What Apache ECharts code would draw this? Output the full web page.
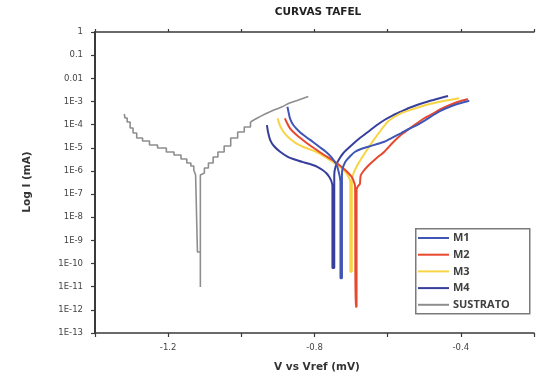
<!DOCTYPE html>
<html>
<head>
<meta charset="utf-8">
<script src="https://cdn.jsdelivr.net/npm/echarts@6/dist/echarts.min.js"></script>
<style>
html,body{margin:0;padding:0;background:#fff;}
#c{width:537px;height:377px;}
</style>
</head>
<body>
<div id="c"></div>
<script>
// ---- data (V vs Vref, current in mA) ----
const m1V = [-0.874,-0.871,-0.867,-0.858,-0.841,-0.823,-0.805,-0.788,-0.769,-0.754,-0.742,-0.737,-0.734,-0.731,-0.729,-0.729,-0.725,-0.725,-0.724,-0.716,-0.702,-0.689,-0.673,-0.653,-0.633,-0.609,-0.587,-0.564,-0.542,-0.520,-0.499,-0.475,-0.454,-0.430,-0.405,-0.377];
const m1I = [5.93e-4,3.50e-4,1.87e-4,9.6e-5,4.93e-5,2.91e-5,1.82e-5,1.13e-5,6.75e-6,3.98e-6,2.13e-6,1.40e-6,9.23e-7,5.73e-7,3.41e-7,2.29e-11,2.29e-11,4.93e-7,1.09e-6,2.42e-6,4.40e-6,6.75e-6,8.83e-6,1.11e-5,1.38e-5,1.82e-5,2.77e-5,4.21e-5,6.46e-5,9.6e-5,1.50e-4,2.60e-4,4.06e-4,5.93e-4,8.15e-4,1.08e-3];

const m2V = [-0.881,-0.875,-0.867,-0.852,-0.832,-0.812,-0.787,-0.769,-0.751,-0.734,-0.716,-0.705,-0.698,-0.693,-0.689,-0.688,-0.685,-0.685,-0.681,-0.676,-0.674,-0.668,-0.654,-0.630,-0.609,-0.587,-0.564,-0.542,-0.520,-0.499,-0.475,-0.454,-0.430,-0.405,-0.381];
const m2I = [1.87e-4,1.17e-4,6.92e-5,3.93e-5,2.16e-5,1.25e-5,6.75e-6,4.40e-6,2.96e-6,1.89e-6,1.09e-6,7.35e-7,5.45e-7,3.66e-7,2.23e-7,1.36e-12,1.36e-12,1.50e-7,2.23e-7,2.72e-7,6.02e-7,8.96e-7,1.63e-6,3.61e-6,6.75e-6,1.60e-5,3.56e-5,6.46e-5,1.14e-4,1.93e-4,3.08e-4,4.72e-4,7.03e-4,9.95e-4,1.28e-3];

const m3V = [-0.901,-0.895,-0.885,-0.871,-0.850,-0.823,-0.796,-0.775,-0.751,-0.732,-0.716,-0.708,-0.702,-0.702,-0.698,-0.698,-0.694,-0.684,-0.671,-0.654,-0.635,-0.618,-0.600,-0.582,-0.564,-0.539,-0.511,-0.486,-0.457,-0.432,-0.405];
const m3I = [1.87e-4,9.6e-5,4.93e-5,2.77e-5,1.56e-5,9.75e-6,6.75e-6,4.40e-6,2.50e-6,1.55e-6,9.23e-7,6.02e-7,3.31e-7,4.43e-11,4.43e-11,4.04e-7,7.35e-7,1.63e-6,3.61e-6,9.28e-6,2.56e-5,5.85e-5,1.33e-4,2.13e-4,3.08e-4,4.27e-4,5.93e-4,7.76e-4,9.75e-4,1.16e-3,1.37e-3];

const m4V = [-0.930,-0.927,-0.921,-0.911,-0.894,-0.874,-0.850,-0.828,-0.805,-0.791,-0.778,-0.768,-0.760,-0.754,-0.751,-0.751,-0.746,-0.746,-0.742,-0.734,-0.721,-0.698,-0.676,-0.653,-0.633,-0.609,-0.587,-0.564,-0.542,-0.520,-0.499,-0.475,-0.456,-0.435];
const m4I = [9.6e-5,4.79e-5,2.16e-5,1.19e-5,6.75e-6,4.19e-6,2.96e-6,2.31e-6,1.80e-6,1.47e-6,1.09e-6,8.11e-7,5.61e-7,3.66e-7,2.23e-7,6.4e-11,6.4e-11,6.65e-7,1.63e-6,2.96e-6,5.93e-6,1.31e-5,2.64e-5,4.93e-5,8.71e-5,1.58e-4,2.47e-4,3.61e-4,5.21e-4,7.03e-4,9.02e-4,1.16e-3,1.41e-3,1.72e-3];

const susV = [-1.320,-1.318,-1.312,-1.304,-1.296,-1.286,-1.270,-1.251,-1.229,-1.205,-1.184,-1.165,-1.149,-1.138,-1.130,-1.125,-1.120,-1.120,-1.112,-1.112,-1.112,-1.109,-1.101,-1.090,-1.077,-1.064,-1.047,-1.029,-1.010,-0.992,-0.975,-0.956,-0.935,-0.911,-0.890,-0.868,-0.844,-0.817];
const susI = [2.87e-4,1.93e-4,1.29e-4,7.13e-5,4.34e-5,2.64e-5,1.96e-5,1.31e-5,9.8e-6,6.55e-6,4.86e-6,3.27e-6,2.19e-6,1.63e-6,1.09e-6,6.65e-7,6.65e-7,3.14e-10,1.91e-10,9.7e-12,6.65e-7,8.11e-7,1.33e-6,2.19e-6,3.98e-6,6.55e-6,1.19e-5,2.64e-5,4.79e-5,7.87e-5,1.29e-4,1.93e-4,2.87e-4,4.27e-4,5.75e-4,8.57e-4,1.16e-3,1.64e-3];
// the substrate trace is a staircase (coarse sampling) up to this potential, smooth above it
const susStepEndV = -0.975;

const seriesNames = ['M1','M2','M3','M4','SUSTRATO'];
const yTickLabels = ['1','0.1','0.01','1E-3','1E-4','1E-5','1E-6','1E-7','1E-8','1E-9','1E-10','1E-11','1E-12','1E-13'];
const xTickLabels = ['-1.2','-0.8','-0.4'];
const titleText = 'CURVAS TAFEL';
const xAxisTitle = 'V vs Vref (mV)';
const yAxisTitle = 'Log I (mA)';

const colors = {M1:'#3f56b6', M2:'#e8482f', M3:'#f8d444', M4:'#373f9c', SUSTRATO:'#8e8e8e'};
const zip = (a,b) => a.map((v,i) => [v, b[i]]);
const susData = zip(susV, susI);
const cut = susV.indexOf(susStepEndV);

const chart = echarts.init(document.getElementById('c'), null, {renderer:'canvas'});
const axisCol = '#3a3a3a';
const lineSeries = (name, data, extra) => Object.assign({
  name, type:'line', data, showSymbol:false, symbol:'none',
  lineStyle:{width:2, color:colors[name]}, itemStyle:{color:colors[name]},
  smooth:0.2, animation:false, z:3
}, extra||{});

chart.setOption({
  animation:false,
  backgroundColor:'#fff',
  grid:{left:95, top:32, width:447, height:301, containLabel:false},
  xAxis:[{
    type:'value', min:-1.4, max:-0.2, interval:0.2, position:'bottom',
    axisLine:{onZero:false, lineStyle:{color:axisCol, width:1.5}},
    axisTick:{show:true, length:4, lineStyle:{color:axisCol, width:1.2}},
    splitLine:{show:false},
    axisLabel:{margin:10, fontSize:8.5, color:'#444', fontFamily:'DejaVu Sans',
      formatter:(v)=>{const s=v.toFixed(1); return xTickLabels.indexOf(s)>=0?s:'';}}
  },{
    type:'value', min:-1.4, max:-0.2, interval:0.2, position:'top',
    axisLine:{onZero:false, lineStyle:{color:axisCol, width:1.5}},
    axisTick:{show:true, inside:false, length:3, lineStyle:{color:axisCol, width:1.2}},
    splitLine:{show:false}, axisLabel:{show:false}
  }],
  yAxis:{
    type:'log', logBase:10, min:1e-13, max:1, interval:1, splitNumber:13,
    axisLine:{show:true, onZero:false, lineStyle:{color:axisCol, width:2}},
    axisTick:{show:true, length:4, lineStyle:{color:axisCol, width:1.2}},
    splitLine:{show:false},
    axisLabel:{margin:12, fontSize:8.5, color:'#444', fontFamily:'DejaVu Sans',
      formatter:(v)=>{const k=Math.round(-Math.log10(v)); return yTickLabels[k]!==undefined?yTickLabels[k]:'';}}
  },
  legend:{
    orient:'vertical', left:418, top:232, padding:0, itemGap:4.7,
    itemWidth:31, itemHeight:2, icon:'rect',
    data: seriesNames,
    textStyle:{fontSize:11, lineHeight:12, color:'#404040', fontWeight:'bold', fontFamily:'Open Sans', padding:[0,0,0,-1]}
  },
  graphic:[
    {type:'rect', left:415, top:228, shape:{width:114, height:85}, style:{fill:'#fff', stroke:'#7a7a7a', lineWidth:1.5}, z:0, silent:true},
    {type:'text', x:318, y:12, style:{text:titleText, fill:'#222', font:'bold 10.5px "DejaVu Sans"', textAlign:'center', textVerticalAlign:'middle'}},
    {type:'text', x:317, y:367, style:{text:xAxisTitle, fill:'#333', font:'bold 10.5px "DejaVu Sans"', textAlign:'center', textVerticalAlign:'middle'}},
    {type:'text', x:27, y:182, rotation:Math.PI/2, style:{text:yAxisTitle, fill:'#333', font:'bold 10.5px "DejaVu Sans"', textAlign:'center', textVerticalAlign:'middle'}}
  ],
  series:[
    lineSeries('SUSTRATO', susData.slice(0, cut+1), {smooth:false, step:'end', lineStyle:{width:1.6, color:colors.SUSTRATO}, z:2}),
    lineSeries('SUSTRATO', susData.slice(cut), {smooth:0.3, lineStyle:{width:1.6, color:colors.SUSTRATO}, z:2}),
    lineSeries('M4', zip(m4V, m4I)),
    lineSeries('M3', zip(m3V, m3I)),
    lineSeries('M2', zip(m2V, m2I)),
    lineSeries('M1', zip(m1V, m1I))
  ]
});
</script>
</body>
</html>
